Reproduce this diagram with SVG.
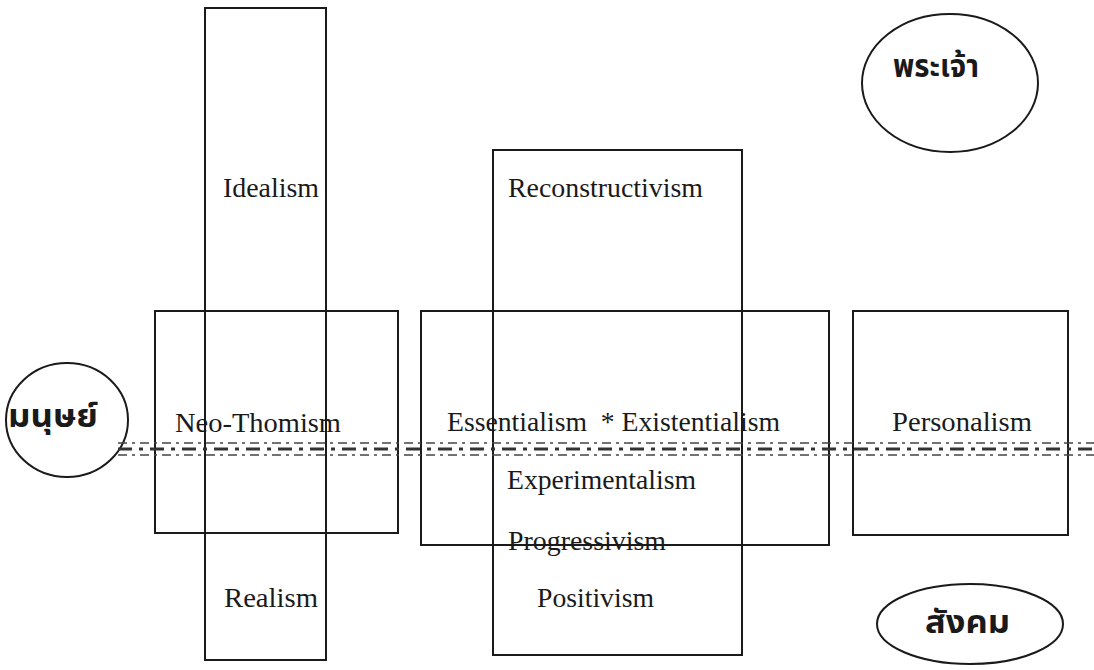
<svg xmlns="http://www.w3.org/2000/svg" width="1094" height="670" viewBox="0 0 1094 670">
<style>
.box{fill:none;stroke:#1a1a1a;stroke-width:2}
.ell{fill:none;stroke:#1a1a1a;stroke-width:2}
.lbl{font-family:"Liberation Serif","Times New Roman",serif;font-size:28px;fill:#1a1a1a}
.th{font-family:"Noto Sans Thai","Noto Sans",sans-serif;font-size:32px;font-weight:bold;fill:#1a1a1a}
.d1{stroke:#444;stroke-width:1.5;fill:none;stroke-dasharray:9 5 3 5}
.d2{stroke:#333;stroke-width:3;fill:none;stroke-dasharray:14 7 4 7}
</style>
<rect width="1094" height="670" fill="#fff"/>
<g id="idealism-realism">
<rect class="box" x="205" y="8" width="121" height="652"/>
<text class="lbl" x="223" y="197" textLength="96" lengthAdjust="spacingAndGlyphs">Idealism</text>
<text class="lbl" x="224" y="607" textLength="94" lengthAdjust="spacingAndGlyphs">Realism</text>
</g>
<g id="neo-thomism">
<rect class="box" x="155" y="311" width="243" height="222"/>
<text class="lbl" x="175" y="432" textLength="166" lengthAdjust="spacingAndGlyphs">Neo-Thomism</text>
</g>
<g id="reconstructivism">
<rect class="box" x="493" y="150" width="249" height="505"/>
<text class="lbl" x="508" y="197" textLength="195" lengthAdjust="spacingAndGlyphs">Reconstructivism</text>
<text class="lbl" x="508" y="550" textLength="158" lengthAdjust="spacingAndGlyphs">Progressivism</text>
<text class="lbl" x="537" y="607" textLength="117" lengthAdjust="spacingAndGlyphs">Positivism</text>
</g>
<g id="essentialism">
<rect class="box" x="421" y="311" width="408" height="234"/>
<text class="lbl" x="447" y="431" textLength="333" lengthAdjust="spacingAndGlyphs" xml:space="preserve">Essentialism  * Existentialism</text>
<text class="lbl" x="507" y="489" textLength="189" lengthAdjust="spacingAndGlyphs">Experimentalism</text>
</g>
<g id="personalism">
<rect class="box" x="853" y="311" width="215" height="224"/>
<text class="lbl" x="892" y="431" textLength="140" lengthAdjust="spacingAndGlyphs">Personalism</text>
</g>
<g id="god">
<ellipse class="ell" cx="950" cy="83" rx="88" ry="69"/>
<text class="th" x="893" y="77" textLength="86" lengthAdjust="spacingAndGlyphs">พระเจ้า</text>
</g>
<g id="society">
<ellipse class="ell" cx="970" cy="624" rx="93" ry="40"/>
<text class="th" x="925" y="633" textLength="85" lengthAdjust="spacingAndGlyphs">สังคม</text>
</g>
<g id="human">
<ellipse class="ell" cx="67" cy="420" rx="61" ry="57"/>
<text class="th" x="8" y="427" textLength="90" lengthAdjust="spacingAndGlyphs">มนุษย์</text>
</g>
<g id="connectors">
<line class="d1" x1="118" y1="443" x2="1094" y2="443"/>
<line class="d2" x1="118" y1="449" x2="1094" y2="449"/>
<line class="d1" x1="118" y1="455" x2="1094" y2="455"/>
</g>
</svg>
